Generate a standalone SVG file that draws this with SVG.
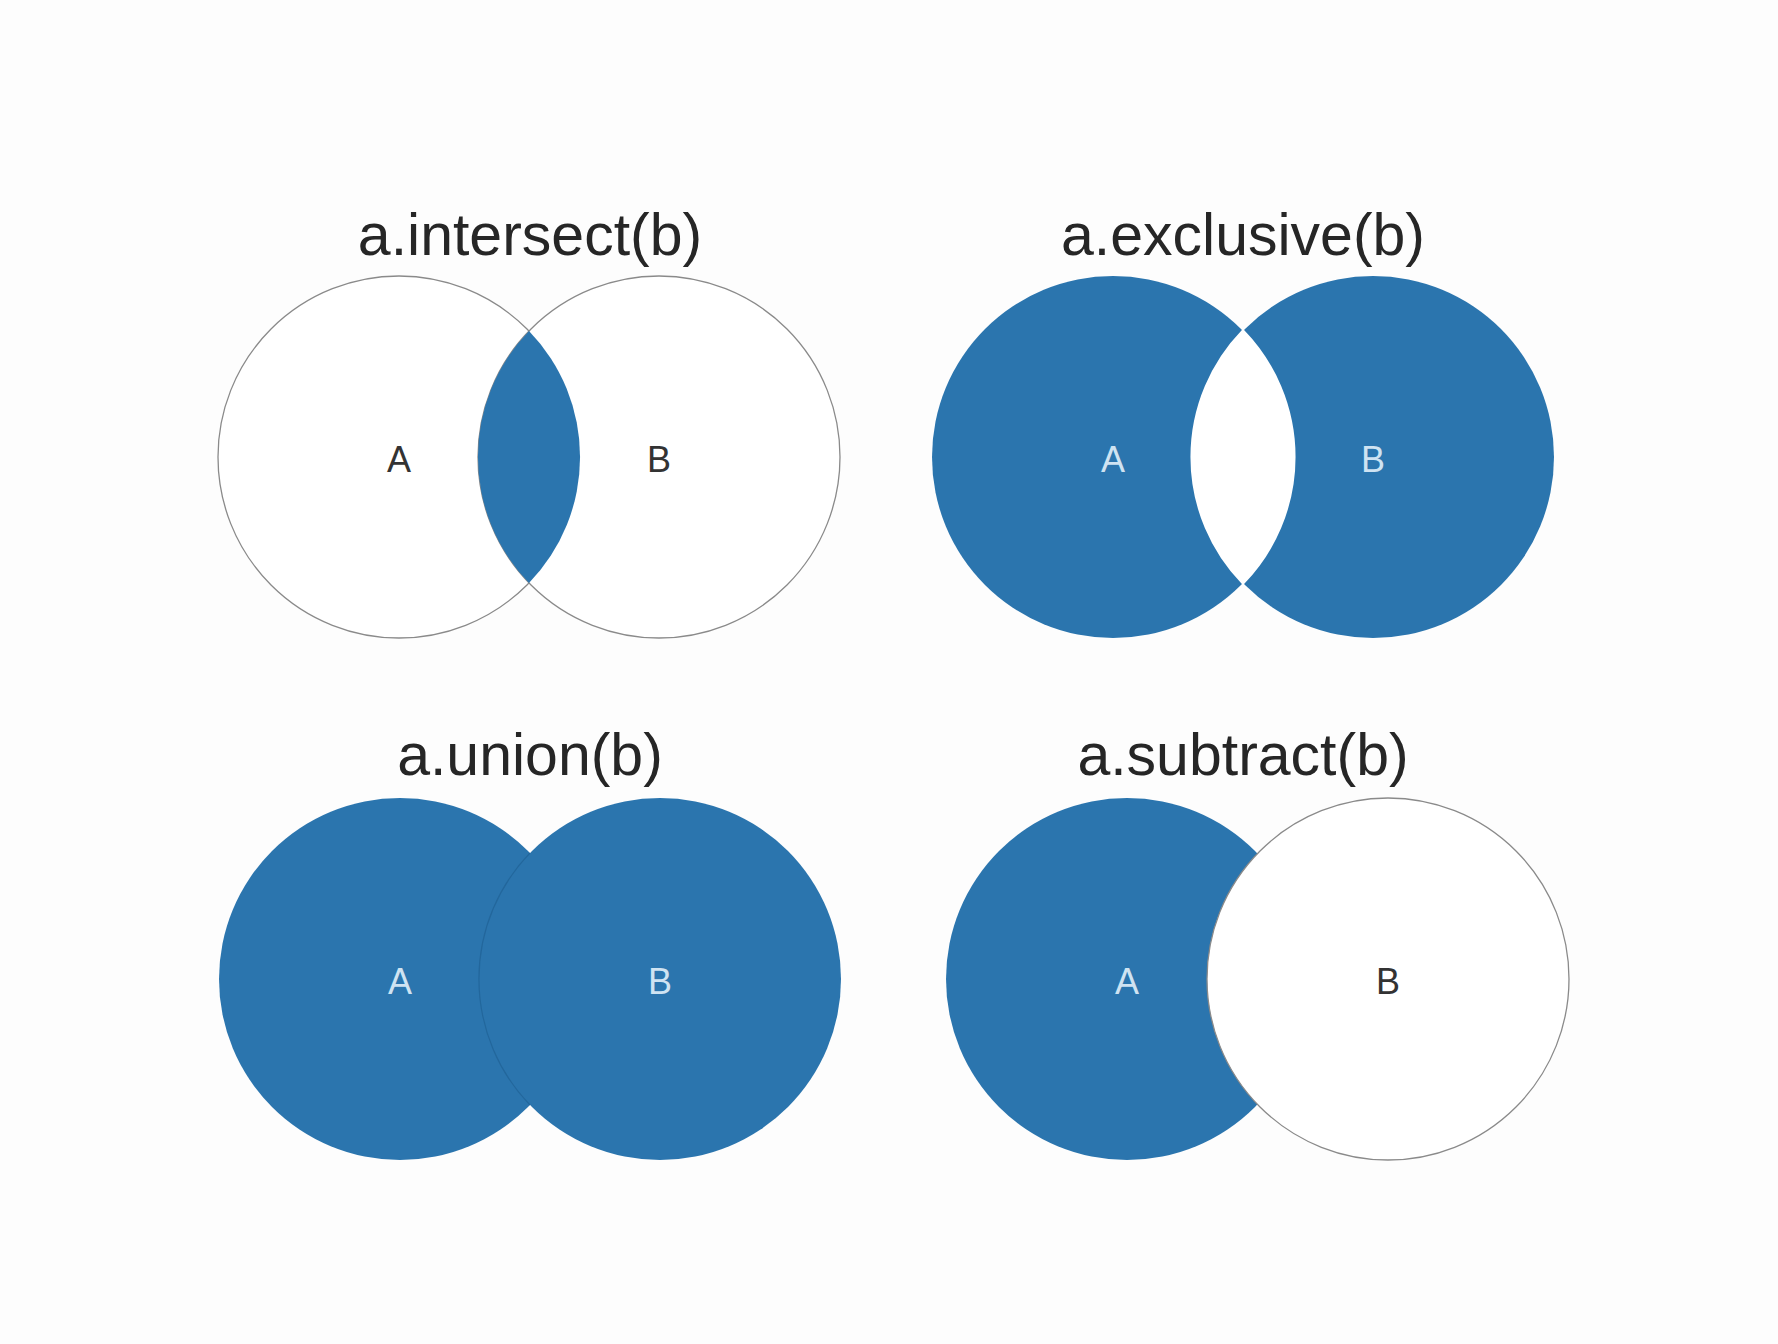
<svg xmlns="http://www.w3.org/2000/svg" width="1778" height="1344" viewBox="0 0 1778 1344">
<style>
.title{font-family:"Liberation Sans",Arial,sans-serif;font-size:59px;fill:#262626;text-anchor:middle}
.lbl{font-family:"Liberation Sans",Arial,sans-serif;font-size:36px;text-anchor:middle}
.dark{fill:#333}
.light{fill:#cfe3f2}
.out{fill:#fff;stroke:#8a8a8a;stroke-width:1.3}
.blue{fill:#2b75ae}
</style>
<rect width="1778" height="1344" fill="#fdfdfd"/>
<g id="intersect">
<text class="title" x="530" y="255">a.intersect(b)</text>
<circle class="out" cx="399" cy="457" r="181"/>
<circle class="out" cx="659" cy="457" r="181"/>
<path class="blue" d="M529,331 A181,181 0 0 1 529,583 A181,181 0 0 1 529,331 Z"/>
<text class="lbl dark" x="399" y="472">A</text>
<text class="lbl dark" x="659" y="472">B</text>
</g>
<g id="exclusive">
<text class="title" x="1243" y="255">a.exclusive(b)</text>
<circle class="blue" cx="1113" cy="457" r="181"/>
<circle class="blue" cx="1373" cy="457" r="181"/>
<path fill="#fff" stroke="#fff" stroke-width="3" d="M1243,331 A181,181 0 0 1 1243,583 A181,181 0 0 1 1243,331 Z"/>
<text class="lbl light" x="1113" y="472">A</text>
<text class="lbl light" x="1373" y="472">B</text>
</g>
<g id="union">
<text class="title" x="530" y="775">a.union(b)</text>
<circle class="blue" cx="400" cy="979" r="181"/>
<circle class="blue" cx="660" cy="979" r="181"/>
<path fill="none" stroke="#23679c" stroke-width="1.2" d="M530,853 A181,181 0 0 0 530,1105"/>
<text class="lbl light" x="400" y="994">A</text>
<text class="lbl light" x="660" y="994">B</text>
</g>
<g id="subtract">
<text class="title" x="1243" y="775">a.subtract(b)</text>
<circle class="blue" cx="1127" cy="979" r="181"/>
<circle class="out" cx="1388" cy="979" r="181"/>
<text class="lbl light" x="1127" y="994">A</text>
<text class="lbl dark" x="1388" y="994">B</text>
</g>
</svg>
